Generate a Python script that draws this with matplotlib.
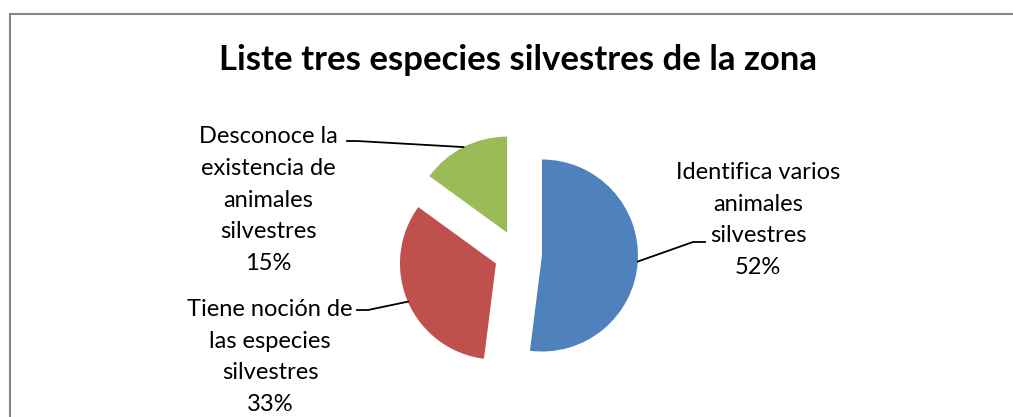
import numpy as np
import matplotlib
matplotlib.use('Agg')
import matplotlib.pyplot as plt
from matplotlib.patches import Rectangle

# datos del grafico
title_Text = 'Liste tres especies silvestres de la zona'
categories = ['Identifica varios\nanimales\nsilvestres',
              'Tiene noción de\nlas especies\nsilvestres',
              'Desconoce la\nexistencia de\nanimales\nsilvestres']
values = [52, 33, 15]
colors = ['#4F81BD', '#C0504D', '#9BBB59']

W, H = 1013, 417
plt.rcParams['font.family'] = ['Lato', 'DejaVu Sans']

fig = plt.figure(figsize=(W / 100, H / 100), dpi=100)
ax = fig.add_axes([0, 0, 1, 1])

center = (518, H - 254)
radius = 96
explode = [24, 24, 24]  # en unidades de datos (pixeles)
wedges, _ = ax.pie(values, colors=colors, startangle=90, counterclock=False,
                   explode=explode, center=center, radius=radius)
ax.set_xlim(0, W)
ax.set_ylim(0, H)
ax.set_aspect('auto')
ax.axis('off')

# marco del grafico
ax.add_patch(Rectangle((10, -20), W + 20, H - 14 + 20, fill=False,
                       edgecolor='#868686', linewidth=1.5, zorder=0))

ax.text(518, H - 60, title_Text, ha='center', va='center',
        fontsize=25, fontweight='bold', color='black')

# posiciones de etiquetas y lineas guia
label_pos = [(758, H - 220), (270, H - 357), (268, H - 200)]
leader_end = [[(705, H - 242), (693, H - 242)],
              [(357, H - 310), (368, H - 310)],
              [(347, H - 141), (357, H - 141)]]

for w, cat, val, pos, le in zip(wedges, categories, values, label_pos, leader_end):
    ang = np.deg2rad((w.theta1 + w.theta2) / 2)
    cx, cy = w.center
    px = cx + radius * np.cos(ang)
    py = cy + radius * np.sin(ang)
    xs = [le[0][0], le[1][0], px]
    ys = [le[0][1], le[1][1], py]
    ax.plot(xs, ys, color='black', linewidth=1.3)
    ax.text(pos[0], pos[1], f'{cat}\n{val}%', ha='center', va='center',
            fontsize=17, linespacing=1.63, color='black')

plt.savefig('out.png', dpi=100)
